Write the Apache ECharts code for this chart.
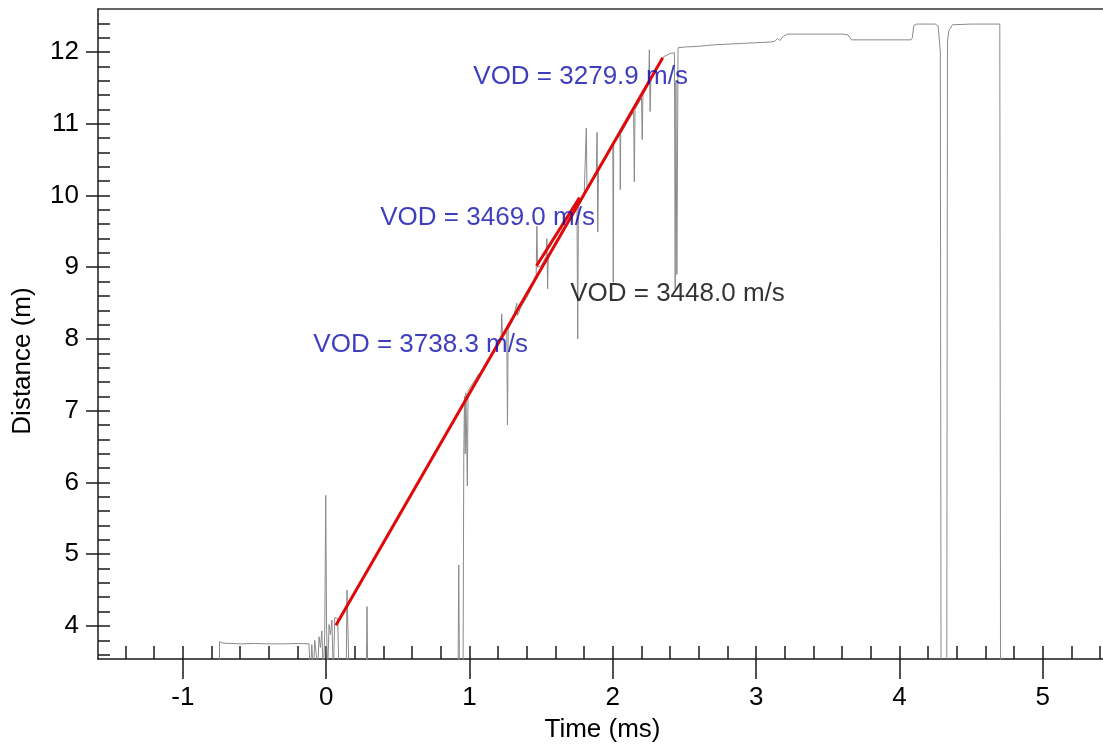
<!DOCTYPE html>
<html>
<head>
<meta charset="utf-8">
<script src="https://cdn.jsdelivr.net/npm/echarts@6/dist/echarts.min.js"></script>
<style>html,body{margin:0;padding:0;background:#fff;}#c{width:1103px;height:748px;}</style>
</head>
<body>
<div id="c"></div>
<script>
// ---- data ----
const traceTime = [-0.745,-0.744,-0.72,-0.6,-0.5,-0.4,-0.3,-0.2,-0.12,-0.11,-0.10,-0.09,-0.08,-0.07,-0.06,-0.05,-0.04,-0.03,-0.02,-0.01,-0.003,0.003,0.01,0.02,0.03,0.04,0.05,0.06,0.08,0.09,0.10,0.14,0.145,0.155,0.16,0.28,0.285,0.29,
0.92,0.925,0.93,0.955,0.96,0.965,0.97,0.975,0.985,0.99,1.00,1.03,1.06,1.10,1.13,1.16,1.19,1.22,1.225,1.23,1.26,1.265,1.27,1.30,1.33,1.335,1.36,1.40,1.43,1.465,1.47,1.475,1.50,1.535,1.54,1.545,1.55,1.60,1.65,1.70,1.75,1.755,1.76,1.80,1.815,1.82,1.85,1.885,1.89,1.895,1.90,1.95,1.995,2.0,2.003,2.006,2.05,2.052,2.055,2.10,2.145,2.15,2.155,2.20,2.205,2.21,2.25,2.255,2.26,2.265,2.30,2.35,2.40,2.43,2.435,2.44,2.447,2.455,
2.50,2.6,2.7,2.8,2.9,3.0,3.1,3.13,3.15,3.165,3.19,3.22,3.4,3.6,3.64,3.665,3.8,4.08,4.09,4.10,4.12,4.25,4.27,4.285,4.29,4.33,4.335,4.345,4.37,4.5,4.7,4.705];
const traceDist = [3.30,3.78,3.76,3.75,3.755,3.75,3.75,3.755,3.75,3.30,3.74,3.30,3.80,3.62,3.30,3.85,3.70,3.93,3.30,3.90,5.82,3.95,3.30,4.02,3.88,4.08,3.30,4.12,4.10,3.30,3.30,3.30,4.50,4.48,3.30,3.30,4.27,3.30,
3.30,4.85,3.30,3.30,6.35,7.20,6.40,7.25,5.95,7.28,7.30,7.40,7.50,7.58,7.68,7.80,7.90,8.00,8.35,8.04,8.10,6.80,8.14,8.25,8.50,8.33,8.45,8.58,8.70,8.85,9.57,9.00,9.02,9.15,9.40,8.70,9.18,9.32,9.48,9.66,9.82,8.00,9.85,10.00,10.94,10.08,10.18,10.30,10.88,9.49,10.35,10.52,10.68,10.64,8.79,10.72,10.85,10.08,10.86,11.02,11.17,10.19,11.20,11.36,10.78,11.40,11.55,12.03,11.17,11.60,11.75,11.93,11.98,11.99,8.70,11.60,8.90,12.06,
12.07,12.08,12.10,12.11,12.12,12.13,12.14,12.15,12.19,12.16,12.22,12.25,12.25,12.25,12.24,12.17,12.17,12.17,12.20,12.37,12.39,12.39,12.36,12.0,3.30,3.30,12.15,12.30,12.38,12.39,12.39,3.30];

const fitTimeA = [0.068, 2.348];
const fitDistA = [4.01, 11.92];
const fitTimeB = [1.468, 1.768];
const fitDistB = [9.02, 9.97];

const annTime = [1.023, 0.374, 1.699, -0.093];
const annDist = [11.657, 9.685, 8.629, 7.921];
const annText = ['VOD = 3279.9 m/s', 'VOD = 3469.0 m/s', 'VOD = 3448.0 m/s', 'VOD = 3738.3 m/s'];
const annColor = ['#0c0cae', '#0c0cae', '#000000', '#0c0cae'];

const xMajorTicks = [-1, 0, 1, 2, 3, 4, 5];
const xMinorTicks = [-1.4,-1.2,-1.0,-0.8,-0.6,-0.4,-0.2,0,0.2,0.4,0.6,0.8,1.0,1.2,1.4,1.6,1.8,2.0,2.2,2.4,2.6,2.8,3.0,3.2,3.4,3.6,3.8,4.0,4.2,4.4,4.6,4.8,5.0,5.2,5.4];
const yMajorTicks = [4, 5, 6, 7, 8, 9, 10, 11, 12];
const yMinorTicks = [3.6,3.8,4.0,4.2,4.4,4.6,4.8,5.0,5.2,5.4,5.6,5.8,6.0,6.2,6.4,6.6,6.8,7.0,7.2,7.4,7.6,7.8,8.0,8.2,8.4,8.6,8.8,9.0,9.2,9.4,9.6,9.8,10.0,10.2,10.4,10.6,10.8,11.0,11.2,11.4,11.6,11.8,12.0,12.2,12.4];

const xMin = -1.592, xMax = 5.42, yMin = 3.539, yMax = 12.6;

// ---- chart ----
const FONT = 'Liberation Sans, Arial, Helvetica, sans-serif';
const FS = 26;
const zip = (a, b) => a.map((v, i) => [v, b[i]]);
const axisCol = '#1a1a1a';
const tickLine = {color: axisCol, width: 1.5};

const chart = echarts.init(document.getElementById('c'), null, {renderer: 'canvas'});
chart.setOption({
  animation: false,
  backgroundColor: '#fff',
  grid: {left: 98, top: 9, right: 0, bottom: 86.5, show: false},
  xAxis: [
    {type: 'value', min: xMin, max: xMax, position: 'bottom',
     axisLine: {show: true, onZero: false, lineStyle: {color: axisCol, width: 1.5}},
     axisTick: {show: true, inside: true, length: 13, customValues: xMinorTicks, lineStyle: tickLine},
     axisLabel: {show: false}, splitLine: {show: false}},
    {type: 'value', min: xMin, max: xMax, position: 'bottom',
     axisLine: {show: false, onZero: false},
     axisTick: {show: true, inside: false, length: 20, customValues: xMajorTicks, lineStyle: tickLine},
     axisLabel: {show: true, customValues: xMajorTicks, margin: 26, fontSize: FS, color: '#000', fontFamily: FONT},
     splitLine: {show: false},
     name: 'Time (ms)', nameLocation: 'middle', nameGap: 58,
     nameTextStyle: {fontSize: FS, color: '#000', fontFamily: FONT, padding: [0, 0, 0, 4]}},
    {type: 'value', min: xMin, max: xMax, position: 'top',
     axisLine: {show: true, onZero: false, lineStyle: {color: '#333', width: 1.5}},
     axisTick: {show: false}, axisLabel: {show: false}, splitLine: {show: false}}
  ],
  yAxis: [
    {type: 'value', min: yMin, max: yMax, position: 'left',
     axisLine: {show: true, onZero: false, lineStyle: {color: axisCol, width: 1.5}},
     axisTick: {show: true, inside: true, length: 12, customValues: yMinorTicks, lineStyle: tickLine},
     axisLabel: {show: false}, splitLine: {show: false}},
    {type: 'value', min: yMin, max: yMax, position: 'left',
     axisLine: {show: false, onZero: false},
     axisTick: {show: true, inside: false, length: 12, customValues: yMajorTicks, lineStyle: tickLine},
     axisLabel: {show: true, customValues: yMajorTicks, margin: 19, fontSize: FS, color: '#000', fontFamily: FONT},
     splitLine: {show: false},
     name: 'Distance (m)', nameLocation: 'middle', nameGap: 62,
     nameTextStyle: {fontSize: FS, color: '#000', fontFamily: FONT, padding: [0, 54, 0, 0]}}
  ],
  series: [
    {type: 'line', xAxisIndex: 0, yAxisIndex: 0, data: zip(traceTime, traceDist), showSymbol: false, clip: true,
     lineStyle: {color: '#8a8a8a', width: 1}, z: 2},
    {type: 'line', xAxisIndex: 0, yAxisIndex: 0, data: zip(fitTimeA, fitDistA), showSymbol: false, clip: true,
     lineStyle: {color: '#e00808', width: 3}, z: 3},
    {type: 'line', xAxisIndex: 0, yAxisIndex: 0, data: zip(fitTimeB, fitDistB), showSymbol: false, clip: true,
     lineStyle: {color: '#e00808', width: 3}, z: 3},
    {type: 'scatter', xAxisIndex: 0, yAxisIndex: 0, symbolSize: 1, itemStyle: {color: 'transparent'}, z: 4,
     data: annTime.map((t, i) => ({value: [t, annDist[i]], name: annText[i],
       label: {show: true, position: 'right', distance: 0, formatter: '{b}', fontSize: FS, color: annColor[i], fontFamily: FONT, align: 'left', verticalAlign: 'middle'}}))}
  ]
});
</script>
</body>
</html>
